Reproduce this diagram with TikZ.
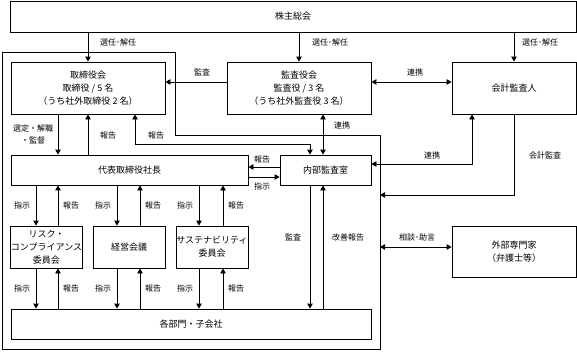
\documentclass[tikz,border=0pt]{standalone}
\usepackage{fontspec}
\setmainfont{Noto Sans CJK JP}
\usetikzlibrary{arrows.meta,positioning}

\tikzset{
  box/.style={draw,line width=0.85pt,align=center,inner sep=0pt,
    font=\fontsize{9}{13}\selectfont},
  lab/.style={font=\fontsize{8}{12}\selectfont,align=center,inner sep=0pt},
  arr/.style={line width=0.85pt,-{Triangle[width=5.5pt,length=5pt]}},
  dbl/.style={line width=0.85pt,{Triangle[width=5.5pt,length=5pt]}-{Triangle[width=5.5pt,length=5pt]}},
}

\begin{document}
\begin{tikzpicture}[x=1pt,y=-1pt]
  \useasboundingbox (0,0) rectangle (577,351);

  % outer frame of the company
  \draw[line width=0.85pt] (2,52) -- (175,52) -- (175,135) -- (380,135) -- (380,349) -- (2,349) -- cycle;

  % boxes
  \node[box,minimum width=566pt,minimum height=31pt] (kabunushi) at (293,16.5) {株主総会};
  \node[box,minimum width=154pt,minimum height=52pt] (torishimari) at (88,88) {取締役会\\取締役 / 5 名\\（うち社外取締役 2 名）};
  \node[box,minimum width=144pt,minimum height=52pt] (kansayaku) at (299,88) {監査役会\\監査役 / 3 名\\（うち社外監査役 3 名）};
  \node[box,minimum width=124pt,minimum height=52pt] (kaikei) at (514,88) {会計監査人};
  \node[box,minimum width=237pt,minimum height=30pt] (daihyo) at (129.5,170) {代表取締役社長};
  \node[box,minimum width=91pt,minimum height=30pt] (naibu) at (325.5,170) {内部監査室};
  \node[box,minimum width=71pt,minimum height=42pt] (risk) at (46.5,247) {リスク・\\コンプライアンス\\委員会};
  \node[box,minimum width=72pt,minimum height=42pt] (keiei) at (129,247) {経営会議};
  \node[box,minimum width=72pt,minimum height=42pt] (sustain) at (212,247) {サステナビリティ\\委員会};
  \node[box,minimum width=360pt,minimum height=30pt] (kakubu) at (191,324) {各部門・子会社};
  \node[box,minimum width=124pt,minimum height=51pt] (gaibu) at (514,251.5) {外部専門家\\（弁護士等）};

  % helper points
  \coordinate (hk) at (310,144);
  \coordinate (frameK) at (380,195);
  \coordinate (frameS) at (380,247);

  % shareholders
  \draw[arr] (kabunushi.south -| torishimari) -- (torishimari.north);
  \draw[arr] (kabunushi.south -| kansayaku) -- (kansayaku.north);
  \draw[arr] (kabunushi.south -| kaikei) -- (kaikei.north);
  \node[lab] (l-sen1) at (118,42) {選任･解任};
  \node[lab] (l-sen2) at (330,42) {選任･解任};
  \node[lab] (l-sen3) at (540,42) {選任･解任};

  % auditors
  \draw[arr] ([yshift=6pt]kansayaku.west) -- ([yshift=6pt]kansayaku.west -| torishimari.east);
  \node[lab] (l-kansa1) at (202,72) {監査};
  \draw[dbl] ([yshift=6pt]kansayaku.east) -- ([yshift=6pt]kansayaku.east -| kaikei.west);
  \node[lab] (l-ren1) at (415,72) {連携};
  \draw[dbl] (kansayaku.south -| 323,0) -- (naibu.north -| 323,0);
  \node[lab] (l-ren2) at (342,125) {連携};
  \draw[dbl] ([xshift=-42pt]kaikei.south) |- ([yshift=6pt]naibu.east);
  \node[lab] (l-ren3) at (432,155) {連携};
  \draw[arr] (kaikei.south) |- (frameK);
  \node[lab] (l-kaikei) at (545,155) {会計監査};
  \draw[dbl] (frameS) -- (gaibu.west |- frameS);
  \node[lab] (l-sodan) at (417,237) {相談･助言};

  % board and president
  \draw[arr] (torishimari.south -| 58,0) -- (daihyo.north -| 58,0);
  \node[lab] (l-sentei) at (33,134) {選定・解職\\・監督};
  \draw[arr] (daihyo.north -| torishimari) -- (torishimari.south);
  \node[lab] (l-hou1) at (108,135) {報告};
  \draw[dbl] ([xshift=47pt]torishimari.south) |- (hk) -- (hk |- naibu.north);
  \node[lab] (l-hou2) at (156,135) {報告};
  \draw[arr] ([yshift=3pt]naibu.west) -- ([yshift=3pt]naibu.west -| daihyo.east);
  \node[lab] (l-hou3) at (262,159) {報告};
  \draw[arr] ([yshift=-7pt]daihyo.east) -- ([yshift=-7pt]daihyo.east -| naibu.west);
  \node[lab] (l-shiji0) at (262,186) {指示};

  % internal audit
  \draw[arr] (hk |- naibu.south) -- (hk |- kakubu.north);
  \node[lab] (l-kansa2) at (293,237) {監査};
  \draw[arr] (kakubu.north -| 323,0) -- (naibu.south -| 323,0);
  \node[lab] (l-kaizen) at (348,237) {改善報告};

  % committees
  \foreach \c/\sx/\hx/\n in {risk/36/58/1,keiei/117/140/2,sustain/199/223/3}{
    \draw[arr] (daihyo.south -| \sx,0) -- (\c.north -| \sx,0);
    \draw[arr] (\c.north -| \hx,0) -- (daihyo.south -| \hx,0);
    \draw[arr] (\c.south -| \sx,0) -- (kakubu.north -| \sx,0);
    \draw[arr] (kakubu.north -| \hx,0) -- (\c.south -| \hx,0);
    \node[lab] (l-shiji\n a) at (\sx-14,205) {指示};
    \node[lab] (l-hou\n a) at (\hx+13,205) {報告};
    \node[lab] (l-shiji\n b) at (\sx-14,288) {指示};
    \node[lab] (l-hou\n b) at (\hx+13,288) {報告};
  }
\end{tikzpicture}
\end{document}
